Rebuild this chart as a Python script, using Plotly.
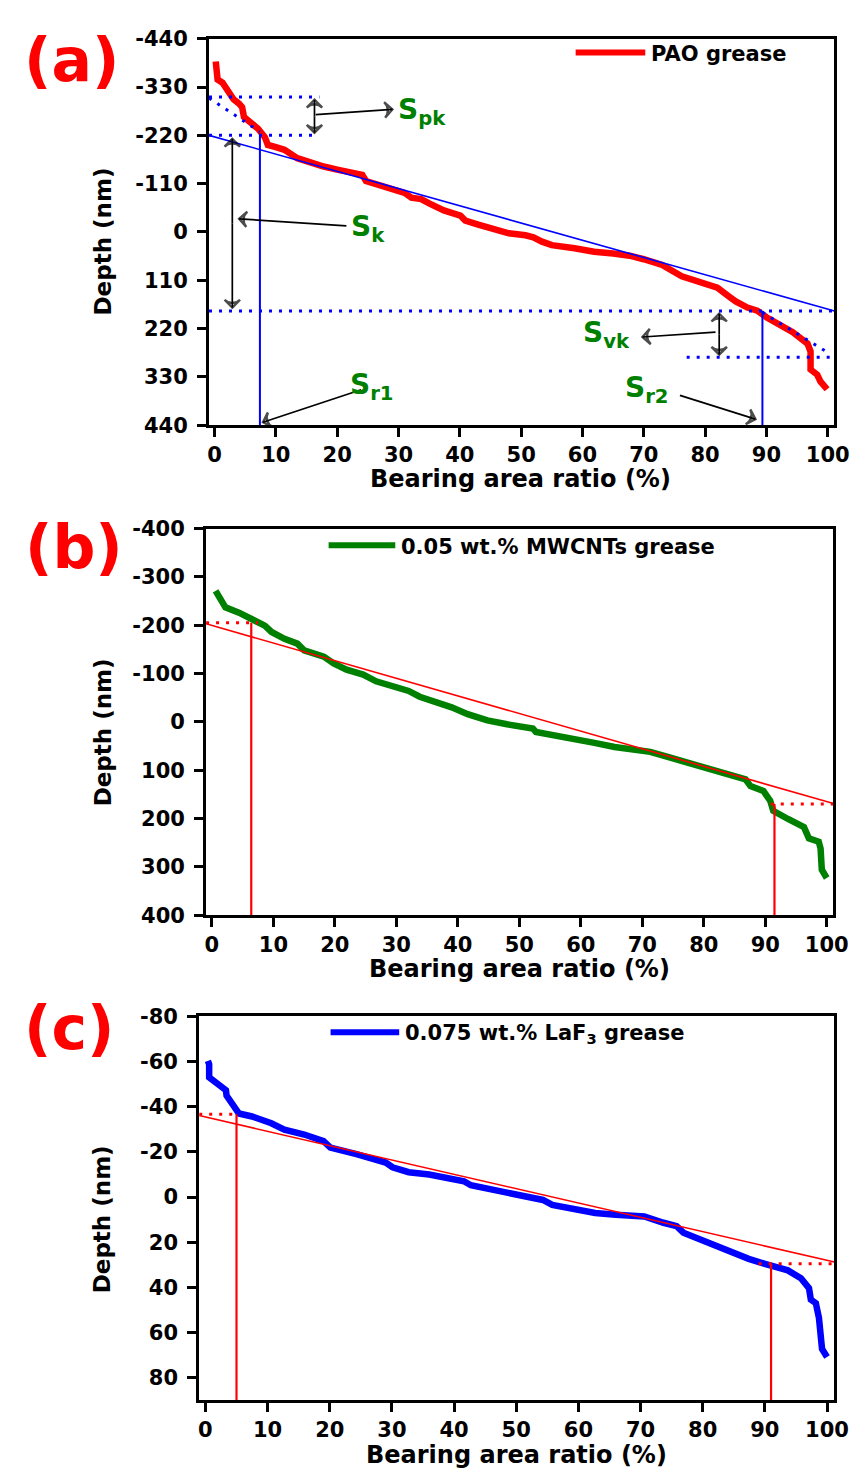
import plotly.graph_objects as go

W, H = 865, 1473

# ---------------- data ----------------
# (a) PAO grease
a_ratio = [0.2, 0.3, 0.5, 1.3, 2.0, 3.1, 4.0, 4.5, 4.8, 5.5, 7.1, 8.2, 8.7, 10.0, 11.4, 13.5, 15.0,
           17.8, 20.0, 22.0, 24.1, 24.7, 27.0, 29.4, 31.0, 32.1, 33.7, 35.0, 37.4, 40.1, 40.9, 43.0,
           45.9, 48.0, 50.7, 52.0, 53.4, 55.0, 58.7, 61.9, 65.0, 67.7, 70.0, 73.0, 76.2, 78.0, 80.0,
           82.0, 83.7, 85.0, 86.9, 88.5, 90.0, 92.0, 94.3, 96.7, 97.2, 97.2, 98.3, 98.8, 99.9]
a_depth = [-388, -370, -347, -340, -325, -302, -292, -284, -262, -255, -235, -216, -198, -193, -187,
           -168, -160, -149, -142, -136, -130, -116, -107, -97, -89, -78, -75, -65, -49, -37, -26,
           -17, -4, 3, 7.5, 12, 22, 30, 37, 45, 49, 54, 62, 75, 101, 108, 116, 127, 145, 158, 172,
           179, 194, 208, 228, 254, 272, 313, 325, 340, 358]
# (b) 0.05 wt.% MWCNTs grease
b_ratio = [0.6, 1.7, 2.2, 4.4, 6.5, 8.6, 9.7, 11.8, 13.9, 15.0, 18.2, 19.8, 21.9, 24.6, 26.7, 29.9,
           32.0, 33.8, 37.3, 39.0, 41.6, 44.8, 48.0, 52.2, 52.7, 56.0, 59.1, 62.0, 65.5, 68.0, 71.3,
           74.0, 76.6, 80.9, 84.0, 86.8, 87.6, 89.7, 90.8, 91.3, 93.7, 96.3, 97.1, 98.7, 99.0, 99.2,
           100.0]
b_depth = [-271, -250, -237, -226, -213, -199, -186, -172, -162, -148, -135, -121, -108, -98, -84,
           -74, -64, -52, -39, -30, -16, -3, 5, 14, 21, 28, 35, 43, 52, 57, 62, 72, 82, 96, 108,
           119, 133, 143, 163, 184, 201, 218, 241, 248, 262, 306, 323]
# (c) 0.075 wt.% LaF3 grease
c_ratio = [0.4, 0.6, 0.6, 1.2, 2.5, 3.3, 3.4, 4.3, 5.1, 5.4, 7.5, 10.6, 12.7, 15.9, 19.0, 20.1,
           24.3, 29.0, 30.1, 32.7, 36.0, 39.0, 41.6, 42.7, 48.5, 54.3, 55.8, 62.7, 66.0, 70.6,
           73.7, 75.8, 76.9, 79.5, 83.2, 87.4, 90.0, 93.7, 95.8, 97.1, 97.4, 98.2, 98.7, 99.0,
           99.2, 100.0]
c_depth = [-60.3, -58.8, -53, -51.6, -48.7, -47.3, -45, -41.4, -39.3, -37, -35.7, -32.7, -29.9,
           -27.7, -24.8, -21.9, -19, -15.3, -13.2, -11, -10, -8.5, -7, -5.2, -1.6, 1.3, 3.5, 7.1,
           7.8, 8.6, 11.4, 12.9, 15.8, 18.7, 23, 27.4, 29.6, 32.5, 36, 40.4, 45.5, 47, 53.5, 61.4,
           67.3, 70.9]

# core-line (Sk) construction values
a_sk_x, a_sk_y = [-0.9, 101.1], [-220, 180]
a_peak_top, a_peak_bot, a_valley_top, a_valley_bot = -307, -220, 180, 285
a_sr1, a_sr2 = 7.4, 89.35
b_sk_x, b_sk_y = [-0.95, 101.1], [-203, 169]
b_top, b_bot, b_sr1, b_sr2 = -205, 170, 6.4, 91.5
c_sk_x, c_sk_y = [-1.0, 101.2], [-36.1, 28.8]
c_top, c_bot, c_sr1, c_sr2 = -36.7, 29.6, 5.0, 91.0

x_ticks = list(range(0, 101, 10))
a_yticks = [-440, -330, -220, -110, 0, 110, 220, 330, 440]
b_yticks = [-400, -300, -200, -100, 0, 100, 200, 300, 400]
c_yticks = [-80, -60, -40, -20, 0, 20, 40, 60, 80]

FONT = "DejaVu Sans"
GREEN = "#008000"
DOT = "3px,7px"


def px(x):
    return x / W


def py(y):
    return 1 - y / H


fig = go.Figure()


def line(xs, ys, color, width, dash="solid", ax="x", ay="y"):
    fig.add_trace(go.Scatter(x=xs, y=ys, mode="lines", xaxis=ax, yaxis=ay, showlegend=False,
                             hoverinfo="skip", line=dict(color=color, width=width, dash=dash)))


# ---- panel a ----
line(a_ratio, a_depth, "#ff0000", 6.5)
line(a_sk_x, a_sk_y, "#0000ff", 1.6)
line([-0.9, 17.1], [a_peak_top, a_peak_top], "#0000ff", 3, DOT)
line([-0.9, 16.5], [a_peak_bot, a_peak_bot], "#0000ff", 3, DOT)
line([-0.9, a_sr1], [a_peak_top + 2, a_peak_bot - 8], "#0000ff", 3, DOT)
line([a_sr1, a_sr1], [a_peak_bot, 440], "#0000ff", 2)
line([-0.9, 101.1], [a_valley_top, a_valley_top], "#0000ff", 3, DOT)
line([77, 101.1], [a_valley_bot, a_valley_bot], "#0000ff", 3, DOT)
line([a_sr2, 100.2], [a_valley_top + 3, a_valley_bot - 9], "#0000ff", 3, DOT)
line([a_sr2, a_sr2], [a_valley_top, 440], "#0000ff", 2)

# ---- panel b ----
line(b_ratio, b_depth, GREEN, 6.5, ax="x2", ay="y2")
line(b_sk_x, b_sk_y, "#ff0000", 1.6, ax="x2", ay="y2")
line([-0.95, 7.5], [b_top, b_top], "#ff0000", 3, DOT, "x2", "y2")
line([b_sr1, b_sr1], [b_top, 400], "#ff0000", 2.2, ax="x2", ay="y2")
line([90.9, 101.1], [b_bot, b_bot], "#ff0000", 3, DOT, "x2", "y2")
line([b_sr2, b_sr2], [b_bot, 400], "#ff0000", 2.2, ax="x2", ay="y2")

# ---- panel c ----
line(c_ratio, c_depth, "#0000ff", 6.5, ax="x3", ay="y3")
line(c_sk_x, c_sk_y, "#ff0000", 1.6, ax="x3", ay="y3")
line([-1.0, 5.3], [c_top, c_top], "#ff0000", 3, DOT, "x3", "y3")
line([c_sr1, c_sr1], [c_top, 90], "#ff0000", 2.2, ax="x3", ay="y3")
line([89, 101.2], [c_bot, c_bot], "#ff0000", 3, DOT, "x3", "y3")
line([c_sr2, c_sr2], [c_bot, 90], "#ff0000", 2.2, ax="x3", ay="y3")


# ---- arrows (panel a), drawn as line + arrow-head marker ----
def arrow(tx, ty, hx, hy):
    fig.add_trace(go.Scatter(
        x=[tx, hx], y=[ty, hy], mode="lines+markers", xaxis="x", yaxis="y", showlegend=False,
        hoverinfo="skip", cliponaxis=False, line=dict(color="black", width=1.7),
        marker=dict(symbol="arrow-wide-open", size=[0, 11], angleref="previous", color="black",
                    line=dict(color="black", width=2.4)),
    ))


def double_arrow(xc, y0, y1):
    ym = (y0 + y1) / 2
    arrow(xc, ym, xc, y0)
    arrow(xc, ym, xc, y1)


double_arrow(16.3, a_peak_top + 6, a_peak_bot - 6)
arrow(16.5, -267, 29.0, -279)
double_arrow(2.9, a_peak_bot + 8, a_valley_top - 8)
arrow(21.5, -14, 4.0, -30)
double_arrow(82.3, a_valley_top + 6, a_valley_bot - 6)
arrow(81.7, 228, 69.8, 239)
arrow(23.9, 359, 7.9, 433)
arrow(75.9, 372, 88.2, 426)

tickfont = dict(family=FONT, size=21, color="black", weight="bold")
axis_common = dict(showline=True, mirror=True, linecolor="black", linewidth=3, ticks="outside",
                   ticklen=9, tickwidth=3, tickcolor="black", showgrid=False, zeroline=False,
                   tickfont=tickfont)


def yaxis(dom, rng, vals, anchor):
    return dict(domain=dom, range=rng, tickvals=vals, ticktext=[str(v) for v in vals],
                anchor=anchor, ticklabelstandoff=5, **axis_common)


def xaxis(dom, rng, anchor):
    return dict(domain=dom, range=rng, tickvals=x_ticks, ticktext=[str(v) for v in x_ticks],
                anchor=anchor, **axis_common)


annotations = []
shapes = []


def ptext(text, x, y, size, color="black", angle=0, xanchor="center", yanchor="middle"):
    annotations.append(dict(text=text, x=px(x), y=py(y), xref="paper", yref="paper",
                            showarrow=False, textangle=angle, xanchor=xanchor, yanchor=yanchor,
                            font=dict(family=FONT, size=size, color=color, weight="bold")))


# panel labels
ptext("(a)", 63, 41, 60, "#ff0000")
ptext("(b)", 65, 536, 60, "#ff0000")
ptext("(c)", 60, 1025, 60, "#ff0000")

# axis titles
for yc, xc in [(467, 521), (965, 520), (1458.5, 517)]:
    ptext("Bearing area ratio (%)", xc, yc, 24)
for yc, xc in [(225, 95), (724, 95), (1219, 94)]:
    ptext("Depth (nm)", xc, yc, 23, angle=-90)

# legends
for (x0, x1, yy, label, col) in [(577, 648, 33, "PAO grease", "#ff0000"),
                                  (325, 393, 534, "0.05 wt.% MWCNTs grease", GREEN),
                                  (327, 397, 1029, "0.075 wt.% LaF<sub>3</sub> grease", "#0000ff")]:
    shapes.append(dict(type="line", xref="paper", yref="paper", x0=px(x0), x1=px(x1),
                       y0=py(yy), y1=py(yy), line=dict(color=col, width=6), layer="above"))
    ptext(label, x1 + 4, yy + 1.5, 21, xanchor="left")

# S-parameter labels
for txt, x, y in [("S<sub>pk</sub>", 394, 93), ("S<sub>k</sub>", 346, 212),
                  ("S<sub>vk</sub>", 582, 320), ("S<sub>r1</sub>", 345, 373),
                  ("S<sub>r2</sub>", 625, 376)]:
    ptext(txt, x, y, 28, GREEN, xanchor="left")

fig.update_layout(
    width=W, height=H, margin=dict(l=0, r=0, t=0, b=0),
    paper_bgcolor="white", plot_bgcolor="white", showlegend=False,
    xaxis=xaxis([px(203), px(841)], [-0.9, 101.1], "y"),
    yaxis=yaxis([py(412), py(19)], [440, -440], a_yticks, "x"),
    xaxis2=xaxis([px(200), px(840)], [-0.95, 101.1], "y2"),
    yaxis2=yaxis([py(910), py(517)], [400, -400], b_yticks, "x2"),
    xaxis3=xaxis([px(193), px(841)], [-1.0, 101.2], "y3"),
    yaxis3=yaxis([py(1403), py(1013)], [90, -80], c_yticks, "x3"),
    annotations=annotations, shapes=shapes,
)

fig.write_html("out.html")
